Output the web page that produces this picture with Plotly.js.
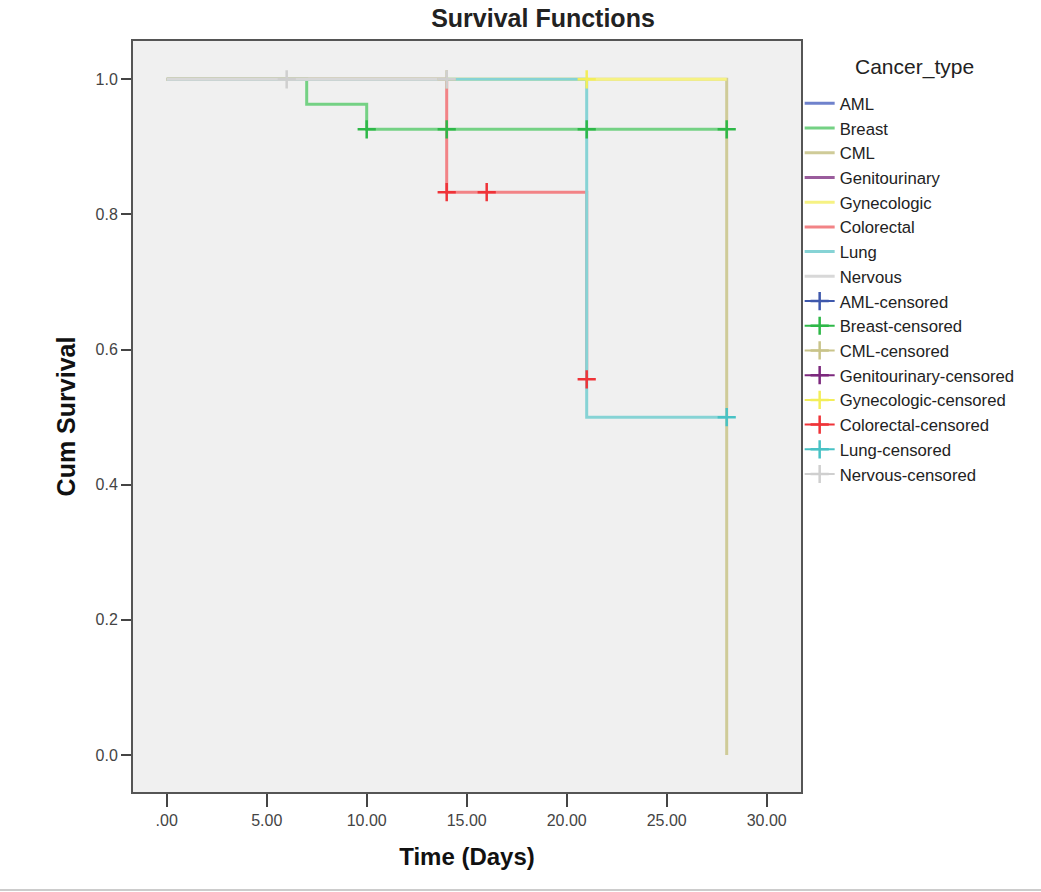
<!DOCTYPE html>
<html>
<head>
<meta charset="utf-8">
<script src="https://cdn.plot.ly/plotly-3.0.1.min.js"></script>
<style>
  html, body { margin: 0; padding: 0; background: #ffffff; }
  #chart { width: 1041px; height: 892px; }
</style>
</head>
<body>
<div id="chart"></div>
<script>
// Kaplan-Meier steps (time in days, cumulative survival)
const groups = ["AML", "Breast", "CML", "Genitourinary", "Gynecologic", "Colorectal", "Lung", "Nervous"];

// AML and Genitourinary have no visible curve, only a legend entry
const amlTime = [null];
const amlSurv = [null];
const breastTime = [0, 7, 10, 28];
const breastSurv = [1.0, 0.963, 0.926, 0.926];
const cmlTime = [0, 28];
const cmlSurv = [1.0, 0.0];
const genitoTime = [null];
const genitoSurv = [null];
const gynecoTime = [0, 28];
const gynecoSurv = [1.0, 1.0];
const colorectalTime = [0, 14, 21];
const colorectalSurv = [1.0, 0.833, 0.556];
const lungTime = [0, 21, 28];
const lungSurv = [1.0, 0.5, 0.5];
const nervousTime = [0, 14];
const nervousSurv = [1.0, 1.0];

// censored observations
const amlCensTime = [null];
const amlCensSurv = [null];
const breastCensTime = [10, 14, 21, 28];
const breastCensSurv = [0.926, 0.926, 0.926, 0.926];
const cmlCensTime = [14];
const cmlCensSurv = [1.0];
const genitoCensTime = [null];
const genitoCensSurv = [null];
const gynecoCensTime = [21];
const gynecoCensSurv = [1.0];
const colorectalCensTime = [14, 16, 21];
const colorectalCensSurv = [0.833, 0.833, 0.556];
const lungCensTime = [28];
const lungCensSurv = [0.5];
const nervousCensTime = [6, 14];
const nervousCensSurv = [1.0, 1.0];

const xTickVals = [0, 5, 10, 15, 20, 25, 30];
const xTickText = [".00", "5.00", "10.00", "15.00", "20.00", "25.00", "30.00"];
const yTickVals = [0, 0.2, 0.4, 0.6, 0.8, 1.0];

const lineColors = ["#6f82cc", "#74d184", "#cfcb98", "#9a5c9c", "#f6f283", "#f28386", "#86d3d5", "#d8d8d8"];
const markColors = ["#3e58ac", "#2eb848", "#c9c48a", "#7c287d", "#f3ee5a", "#ef3338", "#48c2c5", "#cfcfcf"];

const steps = [
  [amlTime, amlSurv], [breastTime, breastSurv], [cmlTime, cmlSurv], [genitoTime, genitoSurv],
  [gynecoTime, gynecoSurv], [colorectalTime, colorectalSurv], [lungTime, lungSurv], [nervousTime, nervousSurv]
];
const censored = [
  [amlCensTime, amlCensSurv], [breastCensTime, breastCensSurv], [cmlCensTime, cmlCensSurv], [genitoCensTime, genitoCensSurv],
  [gynecoCensTime, gynecoCensSurv], [colorectalCensTime, colorectalCensSurv], [lungCensTime, lungCensSurv], [nervousCensTime, nervousCensSurv]
];

// put a gap after each point so the legend shows a line but no line joins the marks
function withGaps(arr) {
  const out = [];
  arr.forEach(v => { out.push(v); out.push(null); });
  return out;
}

const traces = [];

steps.forEach((s, i) => {
  traces.push({
    x: s[0],
    y: s[1],
    type: "scatter",
    mode: "lines",
    name: groups[i],
    line: { color: lineColors[i], width: 3, shape: "hv" },
    hoverinfo: "skip"
  });
});

censored.forEach((c, i) => {
  traces.push({
    x: withGaps(c[0]),
    y: withGaps(c[1]),
    type: "scatter",
    mode: "lines+markers",
    connectgaps: false,
    name: groups[i] + "-censored",
    line: { color: markColors[i], width: 2 },
    marker: {
      symbol: "cross-thin",
      size: 13,
      color: markColors[i],
      line: { color: markColors[i], width: 2.5 }
    },
    hoverinfo: "skip"
  });
});

const layout = {
  width: 1041,
  height: 892,
  paper_bgcolor: "#ffffff",
  plot_bgcolor: "#f0f0f0",
  font: { family: "Liberation Sans, Arial, sans-serif", color: "#333333" },
  margin: { l: 133, r: 240, t: 41, b: 100 },
  title: {
    text: "<b>Survival Functions</b>",
    font: { size: 25, color: "#222222", family: "Liberation Sans, Arial, sans-serif" },
    x: 543 / 1041,
    xanchor: "center",
    xref: "container",
    y: 1 - 18 / 892,
    yanchor: "middle",
    yref: "container"
  },
  xaxis: {
    range: [-1.685, 31.715],
    tickmode: "array",
    tickvals: xTickVals,
    ticktext: xTickText,
    ticks: "outside",
    ticklen: 13,
    tickwidth: 2,
    tickcolor: "#444444",
    tickfont: { size: 16, color: "#444444" },
    showgrid: false,
    zeroline: false,
    showline: true,
    mirror: true,
    linecolor: "#555555",
    linewidth: 2,
    title: {
      text: "<b>Time (Days)</b>",
      font: { size: 24, color: "#111111" },
      standoff: 20
    }
  },
  yaxis: {
    range: [-0.0548, 1.0567],
    tickmode: "array",
    tickvals: yTickVals,
    tickformat: ".1f",
    ticks: "outside",
    ticklen: 10,
    tickwidth: 2,
    tickcolor: "#444444",
    tickfont: { size: 16, color: "#444444" },
    showgrid: false,
    zeroline: false,
    showline: true,
    mirror: true,
    linecolor: "#555555",
    linewidth: 2,
    title: {
      text: "<b>Cum Survival</b>",
      font: { size: 25, color: "#111111" },
      standoff: 13
    }
  },
  showlegend: true,
  legend: {
    x: 0.998,
    xanchor: "left",
    y: (792 - 86) / 751,
    yanchor: "top",
    bgcolor: "rgba(0,0,0,0)",
    font: { size: 16.7, color: "#222222" },
    itemclick: false,
    itemdoubleclick: false
  },
  annotations: [
    {
      text: "Cancer_type",
      xref: "paper",
      yref: "paper",
      x: (914 - 133) / 668,
      y: (792 - 67) / 751,
      xanchor: "center",
      yanchor: "middle",
      showarrow: false,
      font: { size: 21, color: "#222222" }
    }
  ],
  shapes: [
    {
      type: "line",
      xref: "paper",
      yref: "paper",
      x0: -133 / 668,
      x1: 908 / 668,
      y0: -98 / 751,
      y1: -98 / 751,
      line: { color: "#cccccc", width: 2 }
    }
  ],
  hovermode: false
};

Plotly.newPlot("chart", traces, layout, { displayModeBar: false, staticPlot: true });
</script>
</body>
</html>
